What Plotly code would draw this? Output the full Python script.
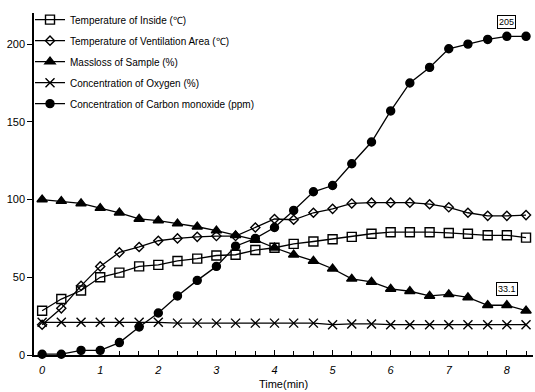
import plotly.graph_objects as go

time_min = [0, 0.33, 0.67, 1.0, 1.33, 1.67, 2.0, 2.33, 2.67, 3.0, 3.33, 3.67, 4.0,
            4.33, 4.67, 5.0, 5.33, 5.67, 6.0, 6.33, 6.67, 7.0, 7.33, 7.67, 8.0, 8.33]

temp_inside = [28.5, 36, 41.5, 50, 53, 57, 58, 60.5, 62, 64, 64.5, 67.5, 69,
               71.5, 73, 74.5, 76, 78, 79, 79, 79, 78.5, 78, 77, 77, 75.5]
temp_vent = [19.5, 30, 44.5, 57, 66, 69.5, 73.5, 75, 76, 76.5, 76.5, 82, 87.5,
             87, 91.5, 94, 97.5, 98, 98, 98, 97, 95, 91.5, 89.5, 89.5, 90]
mass_loss = [100, 99, 97.5, 94.5, 91.5, 87.5, 86.5, 84.5, 82.5, 80, 77, 74, 69,
             64.5, 60.5, 55.5, 49, 47, 42.5, 41, 38, 39, 37, 32, 32, 28.5]
oxygen = [21, 21, 21, 21, 21, 21, 21, 20.5, 20.5, 20.5, 20.5, 20.5, 20.5,
          20.5, 20.5, 19.5, 20, 20, 19.5, 19.5, 19.5, 19.5, 19.5, 19.5, 19.5, 19.5]
co_ppm = [0.5, 0.5, 3, 3, 8, 18, 27, 38, 48, 57, 70, 75, 82,
          93, 105, 109, 123, 137, 157, 175, 185, 197, 200, 203, 205, 205]

series_names = [
    "Temperature of Inside (℃)",
    "Temperature of Ventilation Area (℃)",
    "Massloss of Sample (%)",
    "Concentration of Oxygen (%)",
    "Concentration of Carbon monoxide (ppm)",
]
series_values = [temp_inside, temp_vent, mass_loss, oxygen, co_ppm]
symbols = ["square-open", "diamond-open", "triangle-up", "x-thin-open", "circle"]
sizes = [9, 7, 9, 9, 8]

x_ticks = [0, 1, 2, 3, 4, 5, 6, 7, 8]
y_ticks = [0, 50, 100, 150, 200]

callouts = [("205", 8.0, 214), ("33.1", 8.0, 42.5)]

font_family = "Liberation Sans, Arial, sans-serif"

fig = go.Figure()
for i, (name, vals, sym, sz) in enumerate(zip(series_names, series_values, symbols, sizes)):
    fig.add_trace(go.Scatter(
        x=time_min, y=vals, name=name, mode="lines+markers",
        line=dict(color="black", width=1.3),
        marker=dict(symbol=sym, size=sz, color="black",
                    line=dict(color="black", width=1.4)),
        legendgroup=f"g{i}", cliponaxis=False,
    ))

for txt, xv, yv in callouts:
    fig.add_annotation(x=xv, y=yv, text=txt, showarrow=False,
                       font=dict(family=font_family, size=9, color="black"),
                       bordercolor="black", borderwidth=1, borderpad=1,
                       bgcolor="white")

fig.update_layout(
    width=535, height=392,
    margin=dict(l=34, r=2, t=13, b=37),
    paper_bgcolor="white", plot_bgcolor="white",
    font=dict(family=font_family, color="black", size=10),
    showlegend=True,
    legend=dict(x=-0.008, y=1.023, xanchor="left", yanchor="top",
                bgcolor="rgba(0,0,0,0)", itemwidth=30, tracegroupgap=2,
                traceorder="grouped",
                font=dict(family=font_family, size=10, color="black")),
    xaxis=dict(
        range=[-0.14, 8.45], showgrid=False, zeroline=False,
        showline=True, linecolor="black", linewidth=1.5,
        tickvals=x_ticks, ticktext=[str(v) for v in x_ticks],
        ticks="inside", ticklen=5, tickcolor="black",
        minor=dict(dtick=1/3, tick0=0, ticks="inside", ticklen=4, tickcolor="black"),
        tickfont=dict(family=font_family, size=11, style="italic"),
        ticklabelstandoff=4,
        title=dict(text="Time(min)", font=dict(family=font_family, size=11), standoff=5),
    ),
    yaxis=dict(
        range=[0, 220], showgrid=False, zeroline=False,
        showline=True, linecolor="black", linewidth=1.5,
        tickvals=y_ticks, ticktext=[str(v) for v in y_ticks],
        ticks="outside", ticklen=5, tickcolor="black",
        tickfont=dict(family=font_family, size=11),
    ),
)

fig.write_html("out.html")
